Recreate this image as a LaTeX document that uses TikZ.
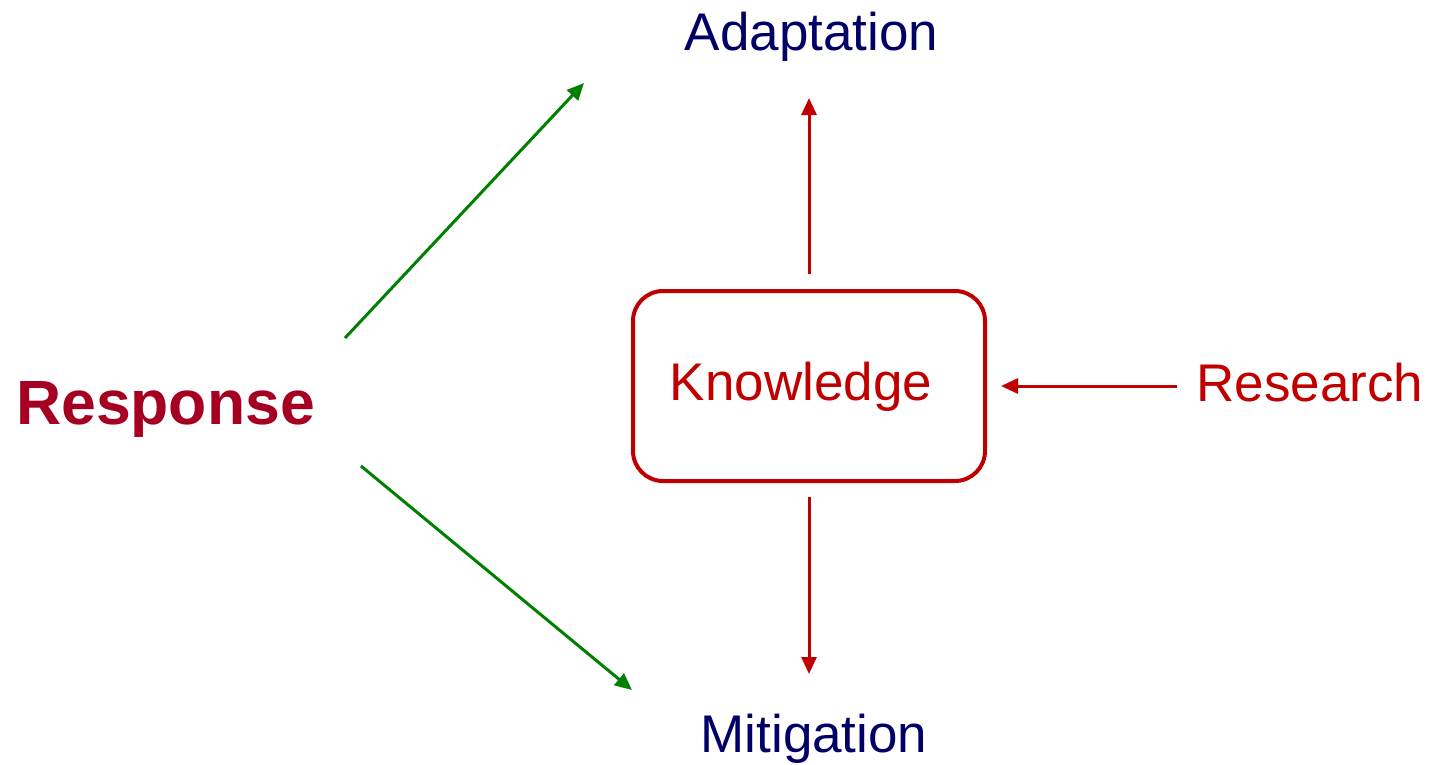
\documentclass[tikz,border=0pt]{standalone}
\usepackage{fontspec}
\setmainfont{Liberation Sans}
\usetikzlibrary{arrows.meta}
\definecolor{navy}{HTML}{000066}
\definecolor{kred}{HTML}{C00000}
\definecolor{resp}{HTML}{A50021}
\definecolor{grn}{HTML}{008000}
\begin{document}
\begin{tikzpicture}[x=1pt,y=-1pt,
  lbl/.style={anchor=base,inner sep=0pt,font=\fontsize{53}{60}\selectfont},
  redarr/.style={draw=kred,line width=3pt,-{Triangle[length=17pt,width=15pt]}},
  grnarr/.style={draw=grn,line width=3pt,-{Triangle[length=17pt,width=15pt]}}]
\useasboundingbox (0,0) rectangle (1439,764);
\node[lbl,text=navy] (adapt) at (811.5,50) {Adaptation};
\node[lbl,text=navy] (mitig) at (814,752) {Mitigation};
\node[lbl,text=kred] (know) at (801,400) {Knowledge};
\node[lbl,text=kred] (res) at (1310,401) {Research};
\node[anchor=base,inner sep=0pt,text=resp,font=\fontsize{62.5}{70}\selectfont\bfseries] (resp) at (165.5,424) {Response};
\node[draw=kred,line width=4pt,rounded corners=30pt,minimum width=352pt,minimum height=190pt,inner sep=0pt] (box) at (809,386) {};
\coordinate (gu1) at (345,338);
\coordinate (gu2) at (584,83);
\coordinate (gd1) at (361,466);
\coordinate (gd2) at (632,690);
\coordinate (ru) at (809,98);
\coordinate (rd) at (809,674);
\coordinate (rl1) at (1177,386);
\coordinate (rl2) at (1001,386);
\draw[grnarr] (gu1) -- (gu2);
\draw[grnarr] (gd1) -- (gd2);
\draw[redarr,shorten <=15pt] (box.north) -- (ru);
\draw[redarr,shorten <=14pt] (box.south) -- (rd);
\draw[redarr] (rl1) -- (rl2);
\end{tikzpicture}
\end{document}
